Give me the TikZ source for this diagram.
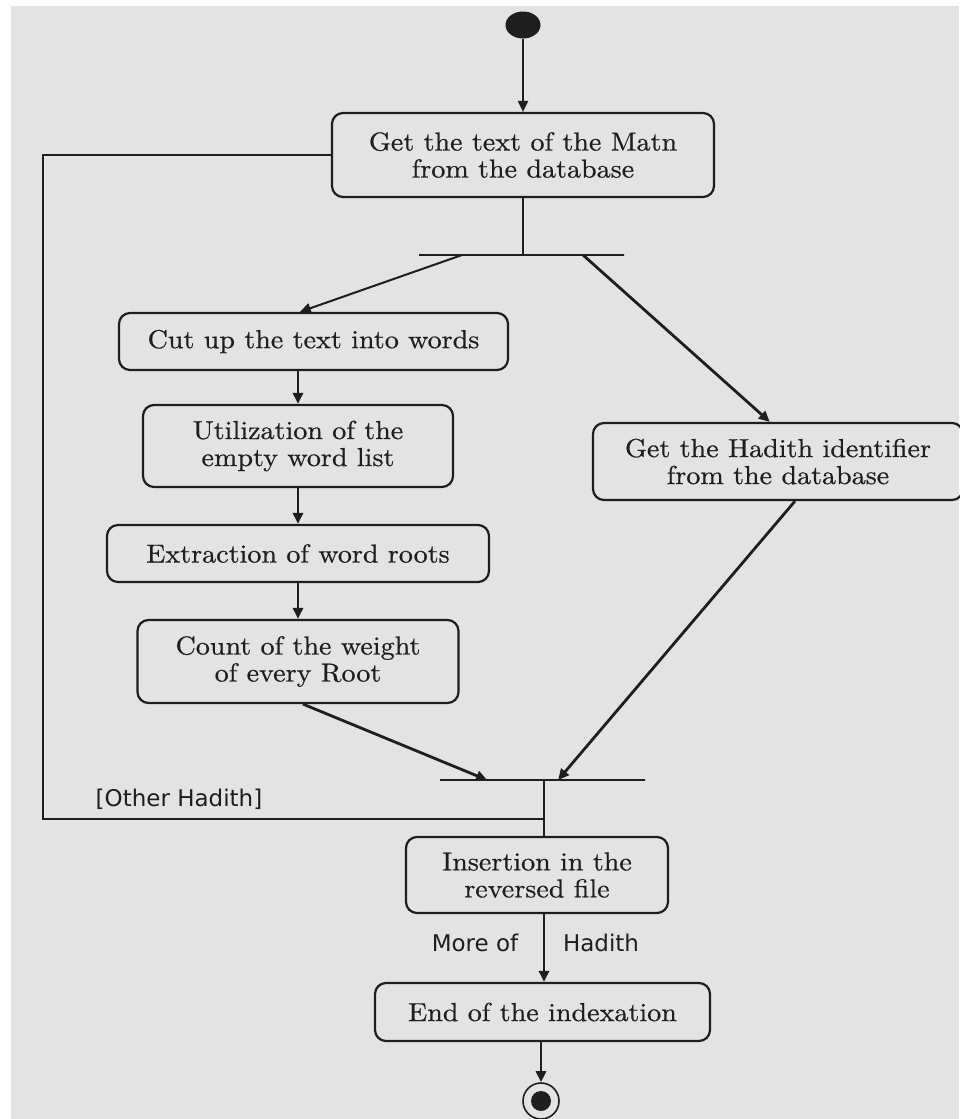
\documentclass[tikz,border=0pt]{standalone}
\usepackage{fontspec}
\newfontfamily\labelfont{DejaVu Sans}
\newfontfamily\boxfont{lmroman10-regular.otf}[FakeStretch=1.08, FakeBold=0.6]
\usetikzlibrary{arrows.meta,calc,shapes.geometric}
\definecolor{panel}{HTML}{E3E3E3}
\definecolor{ink}{HTML}{1E1E1E}
\begin{document}
\begin{tikzpicture}[x=1pt,y=-1pt,
  act/.style={draw=ink, line width=2.2pt, rounded corners=11pt, align=center,
    inner sep=0pt, text=ink, font=\boxfont\fontsize{26}{27}\selectfont},
  bar/.style={draw=ink, line width=2pt, inner sep=0pt, outer sep=0pt,
    minimum height=0pt},
  flow/.style={line width=2pt, draw=ink},
  heavy/.style={line width=2.8pt, draw=ink},
  tip/.style={-{Triangle[length=11pt,width=10pt]}},
  tag/.style={font=\labelfont\fontsize{23}{23}\selectfont, inner sep=0pt, text=ink}]

% canvas
\useasboundingbox (0,0) rectangle (959,1119);
\fill[white] (0,0) rectangle (959,1119);
\fill[panel] (11,6) rectangle (959,1119);

% initial and final states
\node[ellipse, fill=ink, minimum width=35pt, minimum height=27pt, inner sep=0pt] (start) at (523,25) {};
\node[circle, draw=ink, line width=1.6pt, minimum size=36pt, inner sep=0pt] (final) at (541,1101) {};
\fill[ink] (final.center) circle[radius=10pt];

% activities
\node[act, minimum width=382pt, minimum height=84pt] (matn) at (523,155)
  {Get the text of the Matn\\from the database};
\node[act, minimum width=389pt, minimum height=57pt] (cut) at (313.5,341.5)
  {Cut up the text into words};
\node[act, minimum width=310pt, minimum height=82pt] (util) at (298,446)
  {Utilization of the\\empty word list};
\node[act, minimum width=382pt, minimum height=57pt] (extr) at (298,553.5)
  {Extraction of word roots};
\node[act, minimum width=321pt, minimum height=83pt] (count) at (298,661.5)
  {Count of the weight\\of every Root};
\node[act, minimum width=370pt, minimum height=77pt] (hadith) at (778,461.5)
  {Get the Hadith identifier\\from the database};
\node[act, minimum width=262pt, minimum height=76pt] (insert) at (537,875)
  {Insertion in the\\reversed file};
\node[act, minimum width=335pt, minimum height=58pt] (endbox) at (542.5,1012)
  {End of the indexation};

% synchronisation bars
\node[bar, minimum width=205pt] (fork) at (521.5,255) {};
\node[bar, minimum width=205pt] (join) at (542.5,780) {};
\coordinate (spine) at (544,780);
\coordinate (loopR) at (544,819);
\coordinate (loopL) at (43,819);

% flows
\draw[flow, tip] (start.south) -- (start.south |- matn.north);
\draw[flow] (matn.south) -- (matn.south |- fork.center);
\draw[flow, tip] ($(fork.west)!0.21!(fork.east)$) -- ($(cut.north west)!0.465!(cut.north east)$);
\draw[heavy, tip] ($(fork.west)!0.8!(fork.east)$) -- ($(hadith.north west)!0.478!(hadith.north east)$);
\draw[heavy, tip] (util.north |- cut.south) -- (util.north);
\draw[heavy, tip] (extr.north |- util.south) -- (extr.north);
\draw[heavy, tip] (count.north |- extr.south) -- (count.north);
\draw[heavy, tip] ($(count.south)+(5,0)$) -- ($(join.west)!0.23!(join.east)$);
\draw[heavy, tip] ($(hadith.south)+(17,0)$) -- ($(join.west)!0.576!(join.east)$);
\draw[flow] (spine) -- (spine |- insert.north);
\draw[flow] (loopR) -- (loopL) |- (matn.west);
\draw[heavy, tip] (spine |- insert.south) -- (spine |- endbox.north);
\draw[heavy, tip] (final |- endbox.south) -- (final.north);

% guards
\node[tag] (other) at (179,799) {[Other Hadith]};
\node[tag] (more) at (475,943) {More of};
\node[tag] (morehadith) at (601,943) {Hadith};
\end{tikzpicture}
\end{document}
